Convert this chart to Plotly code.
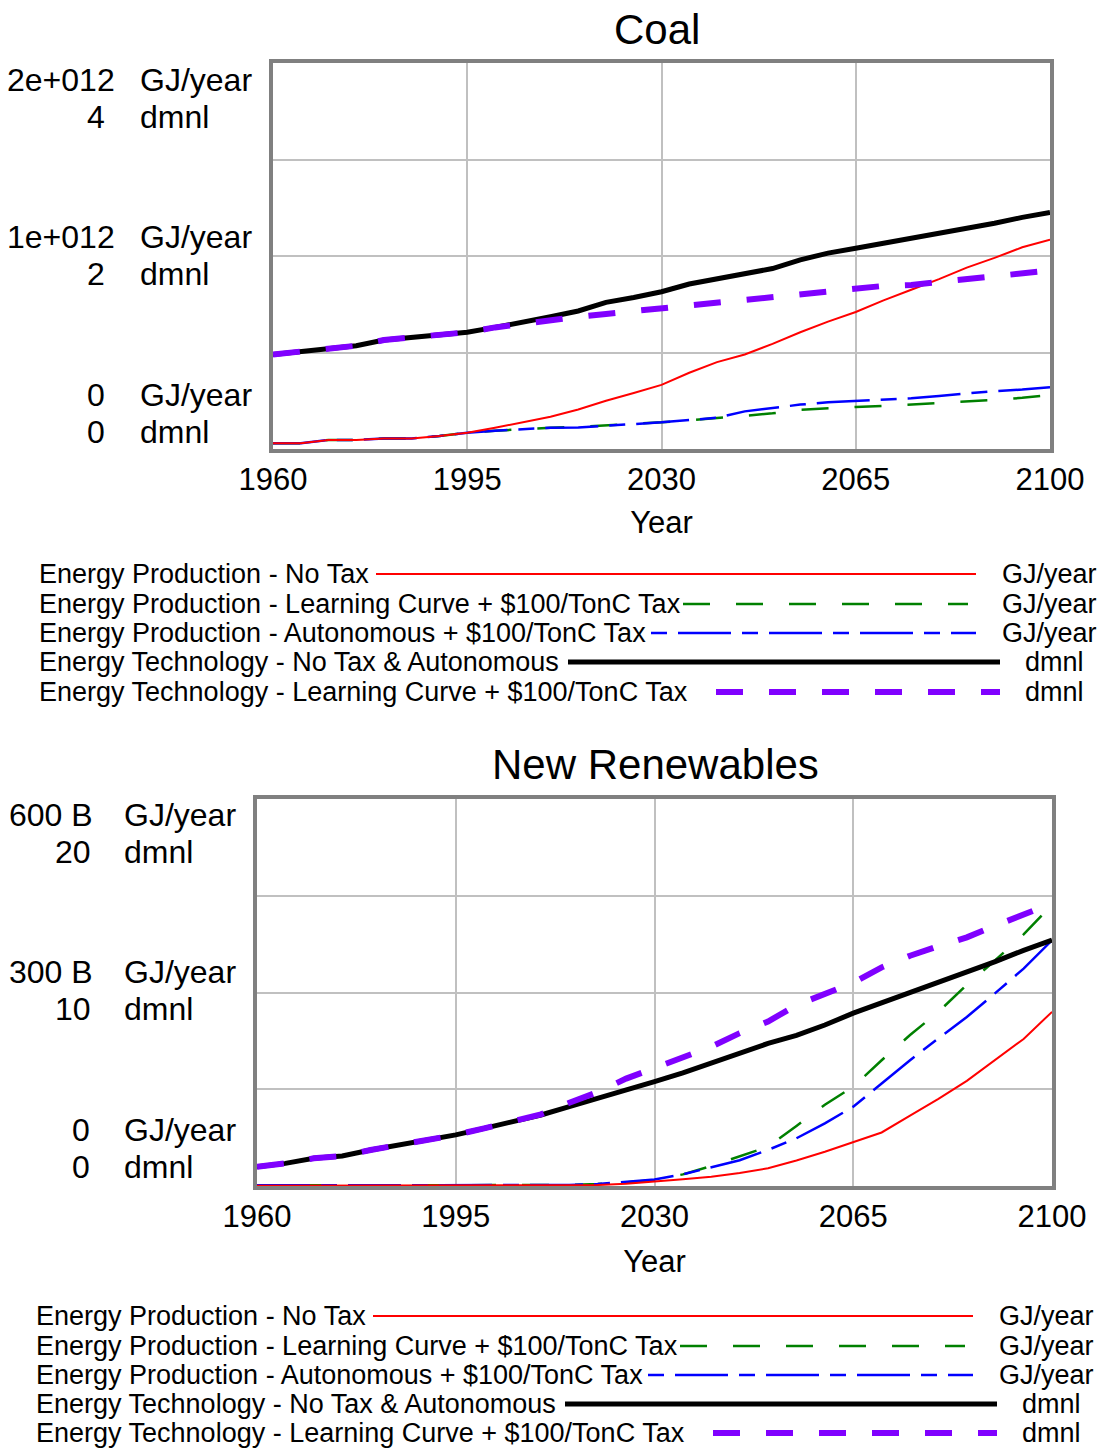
import plotly.graph_objects as go

W, H = 1097, 1448
FONT = "Arial, Liberation Sans, sans-serif"

# ---------------- data ----------------
years = [1960, 1965, 1970, 1975, 1980, 1985, 1990, 1995, 2000, 2005, 2010, 2015, 2020, 2025, 2030,
         2035, 2040, 2045, 2050, 2055, 2060, 2065, 2070, 2075, 2080, 2085, 2090, 2095, 2100]
x_ticks = [1960, 1995, 2030, 2065, 2100]

# Coal (GJ/year)
coal_no_tax = [30e9, 30e9, 47e9, 47e9, 55e9, 55e9, 67e9, 84e9, 110e9, 140e9, 167e9, 205e9, 250e9, 290e9,
               332e9, 395e9, 450e9, 490e9, 545e9, 605e9, 660e9, 710e9, 770e9, 825e9, 880e9, 940e9, 990e9,
               1045e9, 1085e9]
coal_learning = [30e9, 30e9, 47e9, 47e9, 55e9, 55e9, 67e9, 84e9, 95e9, 103e9, 110e9, 115e9, 124e9, 131e9,
                 138e9, 148e9, 160e9, 172e9, 185e9, 203e9, 212e9, 218e9, 223e9, 230e9, 237e9, 245e9, 254e9,
                 265e9, 280e9]
coal_autonomous = [30e9, 30e9, 47e9, 47e9, 55e9, 55e9, 67e9, 84e9, 95e9, 103e9, 110e9, 112e9, 120e9, 130e9,
                   138e9, 150e9, 162e9, 195e9, 212e9, 230e9, 242e9, 250e9, 255e9, 263e9, 275e9, 288e9, 300e9,
                   308e9, 320e9]
# Coal (dmnl)
coal_tech_notax = [0.98, 1.01, 1.04, 1.07, 1.13, 1.16, 1.18, 1.21, 1.26, 1.31, 1.37, 1.43, 1.52, 1.57, 1.63,
                   1.71, 1.76, 1.81, 1.87, 1.96, 2.03, 2.08, 2.13, 2.18, 2.24, 2.29, 2.34, 2.40, 2.45]
coal_tech_learning = [0.98, 1.01, 1.04, 1.07, 1.13, 1.16, 1.18, 1.21, 1.26, 1.30, 1.33, 1.37, 1.40, 1.43, 1.46,
                      1.48, 1.52, 1.55, 1.58, 1.60, 1.63, 1.66, 1.69, 1.70, 1.73, 1.75, 1.78, 1.81, 1.85]

# New Renewables (GJ/year)
ren_no_tax = [0.5e9, 0.5e9, 0.5e9, 0.5e9, 0.5e9, 0.5e9, 0.5e9, 0.5e9, 0.5e9, 0.5e9, 0.5e9, 0.8e9, 1.5e9, 3.5e9,
              6.7e9, 10.5e9, 14.5e9, 20e9, 27.5e9, 39.5e9, 53e9, 68.5e9, 83e9, 109e9, 135e9, 163e9, 196e9,
              228e9, 270e9]
ren_learning = [1e9, 1e9, 1e9, 1e9, 1e9, 1e9, 1e9, 1e9, 1e9, 1e9, 1e9, 1.5e9, 3e9, 5.5e9,
                9.3e9, 18e9, 31e9, 46e9, 61e9, 93e9, 126e9, 154e9, 195e9, 234e9, 270e9, 312e9, 350e9,
                390e9, 436e9]
ren_autonomous = [1e9, 1e9, 1e9, 1e9, 1e9, 1e9, 1e9, 1e9, 1e9, 1e9, 1e9, 1.5e9, 3e9, 6e9,
                  10e9, 18e9, 29e9, 40e9, 56e9, 74e9, 97e9, 123e9, 159e9, 195e9, 229e9, 262e9, 299e9,
                  337e9, 381e9]
# New Renewables (dmnl)
ren_tech_notax = [1.0, 1.17, 1.43, 1.55, 1.86, 2.12, 2.38, 2.64, 2.98, 3.32, 3.67, 4.10, 4.52, 4.95, 5.39,
                  5.85, 6.37, 6.85, 7.37, 7.78, 8.32, 8.93, 9.46, 10.0, 10.56, 11.07, 11.6, 12.18, 12.71]
ren_tech_learning = [1.0, 1.17, 1.43, 1.55, 1.86, 2.12, 2.38, 2.64, 2.98, 3.32, 3.70, 4.30, 4.85, 5.55, 6.10,
                     6.65, 7.20, 7.90, 8.50, 9.35, 9.90, 10.5, 11.3, 11.9, 12.4, 12.85, 13.45, 14.0, 14.6]

legend_labels = ["Energy Production - No Tax",
                 "Energy Production - Learning Curve + $100/TonC Tax",
                 "Energy Production - Autonomous + $100/TonC Tax",
                 "Energy Technology - No Tax & Autonomous",
                 "Energy Technology - Learning Curve + $100/TonC Tax"]
legend_units = ["GJ/year", "GJ/year", "GJ/year", "dmnl", "dmnl"]

coal_gj_ticks = ["2e+012", "1e+012", "0"]
coal_dmnl_ticks = ["4", "2", "0"]
ren_gj_ticks = ["600 B", "300 B", "0"]
ren_dmnl_ticks = ["20", "10", "0"]

# ---------------- styles ----------------
styles = [
    dict(color="#ff0000", width=2),
    dict(color="#008000", width=2.5, dash="27px,26px"),
    dict(color="#0000ff", width=2.5, dash="53px,11px,16px,11px"),
    dict(color="#000000", width=5),
    dict(color="#8000ff", width=6, dash="27px,26px"),
]


def px(x):
    return x / W


def py(y):
    return 1 - y / H


fig = go.Figure()

panels = [
    dict(x="x", y_gj="y", y_dm="y2",
         gj=[coal_no_tax, coal_learning, coal_autonomous],
         dm=[coal_tech_notax, coal_tech_learning]),
    dict(x="x2", y_gj="y3", y_dm="y4",
         gj=[ren_no_tax, ren_learning, ren_autonomous],
         dm=[ren_tech_notax, ren_tech_learning]),
]
draw_order = [1, 2, 0]
for p in panels:
    for i in draw_order:
        fig.add_trace(go.Scatter(x=years, y=p["gj"][i], mode="lines", line=styles[i],
                                 xaxis=p["x"], yaxis=p["y_gj"], showlegend=False,
                                 name=legend_labels[i]))
    for j in range(2):
        fig.add_trace(go.Scatter(x=years, y=p["dm"][j], mode="lines", line=styles[3 + j],
                                 xaxis=p["x"], yaxis=p["y_dm"], showlegend=False,
                                 name=legend_labels[3 + j]))

grid = dict(showgrid=True, gridcolor="#c0c0c0", gridwidth=2, zeroline=False,
            showline=True, mirror=True, linecolor="#808080", linewidth=4, automargin=False)
xcommon = dict(range=[1960, 2100], tickvals=x_ticks, ticktext=[str(t) for t in x_ticks],
               tickfont=dict(size=31, color="black", family=FONT), ticks="", **grid)

fig.update_layout(
    width=W, height=H, autosize=False,
    margin=dict(l=0, r=0, t=0, b=0, pad=0, autoexpand=False),
    paper_bgcolor="white", plot_bgcolor="white",
    font=dict(family=FONT, color="black"),
    showlegend=False,
    xaxis=dict(domain=[px(273), px(1050)], anchor="y",
               title=dict(text="Year", font=dict(size=31, family=FONT), standoff=16), **xcommon),
    yaxis=dict(domain=[py(449), py(63)], anchor="x", range=[0, 2e12],
               tickvals=[0, 0.5e12, 1e12, 1.5e12, 2e12], showticklabels=False, **grid),
    yaxis2=dict(overlaying="y", anchor="x", range=[0, 4], visible=False, automargin=False),
    xaxis2=dict(domain=[px(257), px(1052)], anchor="y3",
                title=dict(text="Year", font=dict(size=31, family=FONT), standoff=18), **xcommon),
    yaxis3=dict(domain=[py(1186), py(799)], anchor="x2", range=[0, 600e9],
                tickvals=[0, 150e9, 300e9, 450e9, 600e9], showticklabels=False, **grid),
    yaxis4=dict(overlaying="y3", anchor="x2", range=[0, 20], visible=False, automargin=False),
)

ann = []
shapes = []


def text(x, y, s, size, anchor="left"):
    ann.append(dict(x=px(x), y=py(y), xref="paper", yref="paper", text=s, showarrow=False,
                    xanchor=anchor, yanchor="middle", font=dict(size=size, family=FONT, color="black")))


# titles
text(657, 30, "Coal", 42, "center")
text(655, 764, "New Renewables", 42, "center")

# y-axis labels (value + unit pairs)
coal_rows = [(80, 117), (237, 274), (395, 432)]
coal_gj_right = [117, 117, 107]
for k in range(3):
    text(coal_gj_right[k], coal_rows[k][0], coal_gj_ticks[k], 32, "right")
    text(138, coal_rows[k][0], "GJ/year", 32, "left")
    text(107, coal_rows[k][1], coal_dmnl_ticks[k], 32, "right")
    text(138, coal_rows[k][1], "dmnl", 32, "left")

ren_rows = [(815, 852), (972, 1009), (1130, 1167)]
ren_gj_right = [95, 95, 92]
ren_dm_right = [93, 93, 92]
for k in range(3):
    text(ren_gj_right[k], ren_rows[k][0], ren_gj_ticks[k], 32, "right")
    text(122, ren_rows[k][0], "GJ/year", 32, "left")
    text(ren_dm_right[k], ren_rows[k][1], ren_dmnl_ticks[k], 32, "right")
    text(122, ren_rows[k][1], "dmnl", 32, "left")

# custom legends
legend_blocks = [
    dict(dx=0, rows=[574, 604, 633, 662, 692]),
    dict(dx=-3, rows=[1316, 1346, 1375, 1404, 1433]),
]
line_x0 = [376, 683, 651, 568, 716]
line_x1 = [976, 968, 976, 1000, 1000]
unit_x = [1000, 1000, 1000, 1023, 1023]
legend_dash = ["solid", "27px,26px", "16px,11px,53px,11px", "solid", "27px,26px"]
for blk in legend_blocks:
    dx = blk["dx"]
    for i, yy in enumerate(blk["rows"]):
        text(37 + dx, yy, legend_labels[i], 27, "left")
        text(unit_x[i] + dx, yy, legend_units[i], 27, "left")
        shapes.append(dict(type="line", xref="paper", yref="paper",
                           x0=px(line_x0[i] + dx), x1=px(line_x1[i] + dx), y0=py(yy), y1=py(yy),
                           line=dict(color=styles[i]["color"], width=styles[i]["width"],
                                     dash=legend_dash[i])))

fig.update_layout(annotations=ann, shapes=shapes)

fig.write_html("out.html", config={"displayModeBar": False},
               post_script="document.body.style.margin='0';")
